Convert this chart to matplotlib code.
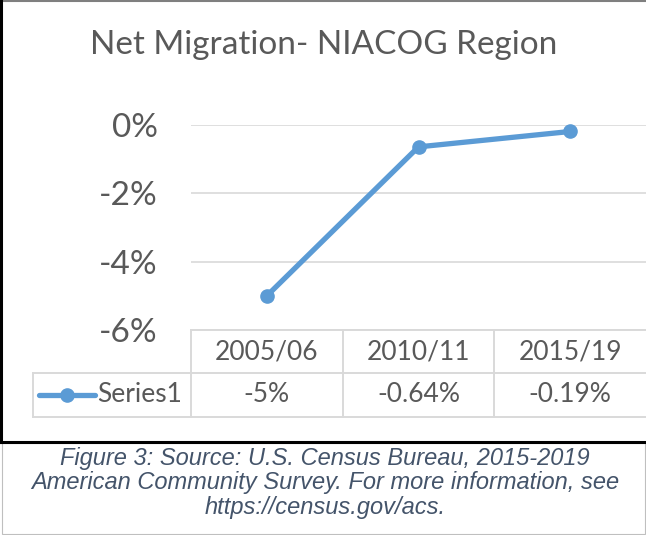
import matplotlib
matplotlib.use("Agg")
import matplotlib.pyplot as plt
from matplotlib.lines import Line2D
from matplotlib.patches import Rectangle
from matplotlib.transforms import blended_transform_factory

# data
periods = ["2005/06", "2010/11", "2015/19"]
net_migration = [-5.0, -0.64, -0.19]
value_labels = ["-5%", "-0.64%", "-0.19%"]
series_name = "Series1"
y_ticks = [0, -2, -4, -6]

title = "Net Migration- NIACOG Region"
caption = ("Figure 3: Source: U.S. Census Bureau, 2015-2019\n"
           "American Community Survey. For more information, see\n"
           "https://census.gov/acs.")

W, H = 646, 535
BLUE = "#5B9BD5"
TXT = "#595959"
GRID = "#D9D9D9"
FONT = "Lato"


def fx(px):
    return px / W


def fy(py):
    return 1 - py / H


fig = plt.figure(figsize=(W / 100, H / 100), dpi=100)

ax = fig.add_axes([fx(191), fy(330), fx(646) - fx(191), fy(125) - fy(330)])
x = list(range(len(periods)))
ax.plot(x, net_migration, color=BLUE, lw=3.8, marker="o", ms=9.5,
        solid_capstyle="round", clip_on=False, zorder=3)
ax.set_xlim(-0.5, len(periods) - 0.5)
ax.set_ylim(-6, 0)
ax.set_yticks(y_ticks)
ax.set_yticklabels([f"{t}%" for t in y_ticks], fontsize=24, color=TXT, family=FONT)
ax.set_xticks([])
ax.tick_params(axis="y", length=0, pad=24)
for s in ax.spines.values():
    s.set_visible(False)
ax.yaxis.grid(True, color=GRID, lw=1.2)
ax.set_axisbelow(True)

# data table under the plot
tr = blended_transform_factory(ax.transData, fig.transFigure)
tbl_top, row_mid, tbl_bot = fy(330), fy(373), fy(417)
for yy, x0 in [(tbl_top, 191), (row_mid, 33), (tbl_bot, 33)]:
    fig.add_artist(Line2D([fx(x0), 1], [yy, yy], color=GRID, lw=1.4))
for xb in [-0.5, 0.5, 1.5]:
    fig.add_artist(Line2D([xb, xb], [tbl_top, tbl_bot], color=GRID, lw=1.4,
                          transform=tr))
fig.add_artist(Line2D([fx(33), fx(33)], [row_mid, tbl_bot], color=GRID, lw=1.4))

for i, (p, v) in enumerate(zip(periods, value_labels)):
    fig.text(i, fy(352), p, transform=tr, ha="center", va="center",
             fontsize=19, color=TXT, family=FONT)
    fig.text(i, fy(395), v, transform=tr, ha="center", va="center",
             fontsize=19, color=TXT, family=FONT)

# legend key inside the table
fig.add_artist(Line2D([fx(39), fx(95)], [fy(395), fy(395)], color=BLUE, lw=3.8,
                      solid_capstyle="round"))
fig.add_artist(Line2D([fx(67)], [fy(395)], color=BLUE, marker="o", ms=9.5))
fig.text(fx(97), fy(395), series_name, ha="left", va="center",
         fontsize=19, color=TXT, family=FONT)

fig.text(fx(324), fy(45), title, ha="center", va="center",
         fontsize=24, color=TXT, family=FONT)

# frame lines
fig.add_artist(Line2D([0, 1], [fy(1), fy(1)], color="#7F7F7F", lw=1.5))
fig.add_artist(Line2D([fx(1), fx(1)], [fy(0), fy(442)], color="black", lw=2.2))
fig.add_artist(Line2D([0, 1], [fy(442), fy(442)], color="black", lw=2.2))
fig.add_artist(Rectangle((fx(2), fy(534)), fx(643), fy(443) - fy(534),
                         fill=False, ec="#BFBFBF", lw=0.8))

fig.text(fx(325), fy(483), caption, ha="center", va="center",
         fontsize=17, color="#44546A", style="italic",
         family="Liberation Sans", linespacing=1.06)

fig.savefig("out.png", dpi=100)
